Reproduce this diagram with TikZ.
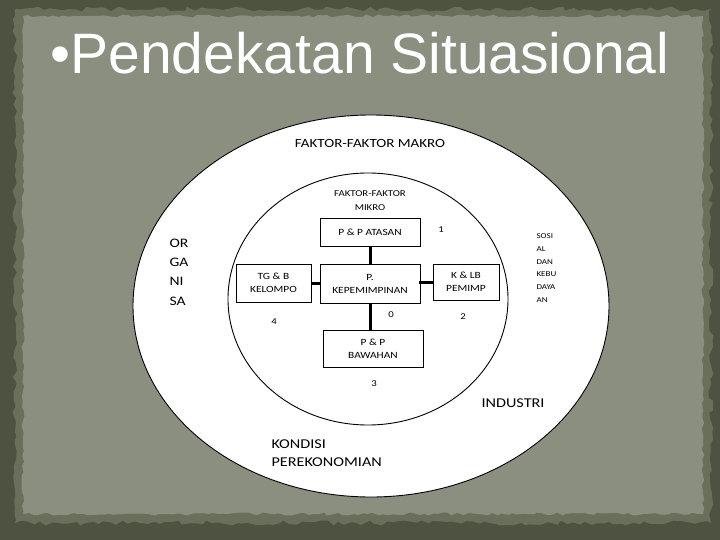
\documentclass[tikz,border=0pt]{standalone}
\usepackage{fontspec}
\setmainfont{Liberation Sans}
\newfontfamily\diagfont[FakeStretch=1.2]{Carlito}
\usetikzlibrary{decorations.pathmorphing}
\definecolor{frame}{RGB}{78,82,64}
\definecolor{torn}{RGB}{106,111,92}
\definecolor{panel}{RGB}{138,143,128}

\begin{document}
\begin{tikzpicture}[x=1pt,y=-1pt,
		box/.style={draw,line width=0.8pt,fill=white,inner sep=1pt,align=center,
			font=\diagfont\fontsize{9.5}{13}\selectfont},
		link/.style={line width=3pt},
		num/.style={font=\diagfont\fontsize{9}{11}\selectfont},
		big/.style={font=\diagfont\fontsize{13.5}{18}\selectfont,align=left}]

			\useasboundingbox (0,0) rectangle (720,540);
			\pgfmathsetseed{5}

			% slide background
			\fill[frame] (0,0) rectangle (720,540);
			\fill[torn,decorate,decoration={random steps,segment length=6pt,amplitude=2.5pt}]
				(15,9) rectangle (711,523);
			\fill[panel,decorate,decoration={random steps,segment length=5pt,amplitude=1.5pt}]
				(23,16) rectangle (703,514);

			\node[anchor=base,text=white,font=\fontsize{57}{60}\selectfont] (title) at (360,74)
				{\textbullet Pendekatan Situasional};

			% circles
			\draw[fill=white,line width=0.9pt] (371,306) ellipse [x radius=238pt,y radius=191pt];
			\draw[line width=0.9pt] (368,299) ellipse [x radius=140pt,y radius=126pt];

			\node[font=\diagfont\fontsize{12.5}{15}\selectfont] (makro) at (370,143) {FAKTOR-FAKTOR MAKRO};
			\node[align=center,font=\diagfont\fontsize{9}{14}\selectfont] (mikro) at (370,201) {FAKTOR-FAKTOR\\MIKRO};

			% boxes
			\node[box,minimum width=100pt,minimum height=28pt] (atasan) at (370,232) {P \& P ATASAN};
			\node[box,minimum width=75pt,minimum height=38pt] (tgb) at (273.5,283) {TG \& B\\KELOMPO};
			\node[box,minimum width=100pt,minimum height=39pt] (kep) at (370,283.5) {P.\\KEPEMIMPINAN};
			\node[box,minimum width=66pt,minimum height=36pt] (klb) at (466,282) {K \& LB\\PEMIMP};
			\node[box,minimum width=100pt,minimum height=37pt] (bawah) at (373,348.5) {P \& P\\BAWAHAN};

			\draw[link] (atasan.south) -- (kep.north);
			\draw[link] (kep.south) -- (kep.south |- bawah.north);
			\draw[link] (tgb.east) -- (tgb.east -| kep.west);
			\draw[link] (kep.east) -- (kep.east |- klb.west) -- (klb.west);

			\node[num] (n1) at (441,230) {1};
			\node[num] (n0) at (391,315) {0};
			\node[num] (n2) at (463,317) {2};
			\node[num] (n3) at (374,384) {3};
			\node[num] (n4) at (274,322) {4};

			% labels in the outer ring
			\node[anchor=west,align=left,font=\diagfont\fontsize{13}{19.3}\selectfont] (organisa) at (166,272)
				{OR\\GA\\NI\\SA};
			\node[anchor=west,align=left,font=\diagfont\fontsize{7.5}{12.8}\selectfont] (sosial) at (533,268)
				{SOSI\\AL\\DAN\\KEBU\\DAYA\\AN};
			\node[big,anchor=west] (industri) at (478,403) {INDUSTRI};
			\node[big,anchor=west] (kondisi) at (268,453) {KONDISI\\PEREKONOMIAN};

		\end{tikzpicture}
\end{document}
